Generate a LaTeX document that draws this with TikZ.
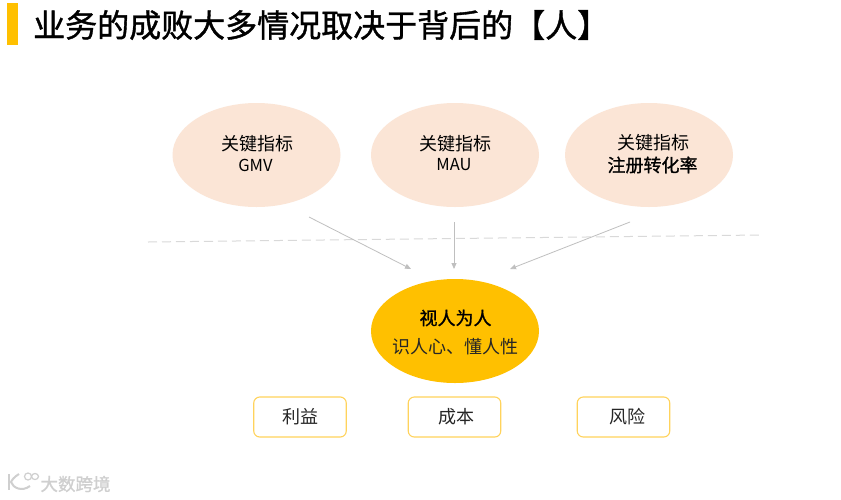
\documentclass[tikz,border=0pt]{standalone}
\usepackage{fontspec}
\setmainfont{Noto Sans CJK SC}[BoldFont={Noto Sans CJK SC Bold}]
\newfontfamily\cjkbold[FakeBold=1.2]{Noto Sans CJK SC}
\usetikzlibrary{shapes.geometric,arrows.meta}
\definecolor{peach}{HTML}{FBE5D6}
\definecolor{gold}{HTML}{FFC000}
\definecolor{boxline}{HTML}{FFD35C}
\definecolor{arrowgray}{HTML}{BFBFBF}
\definecolor{dashgray}{HTML}{D9D9D9}
\definecolor{wmgray}{HTML}{CFCFCF}
\tikzset{
  blob/.style={ellipse,minimum width=168pt,minimum height=104pt,inner sep=0pt,text=black},
  peachblob/.style={blob,fill=peach},
  goldblob/.style={blob,fill=gold},
  tagbox/.style={draw=boxline,line width=1.1pt,rounded corners=6pt,fill=white,minimum width=92.5pt,minimum height=40pt,inner sep=0pt},
  tagtext/.style={inner sep=0pt,font=\fontsize{18}{20}\selectfont,text=black!85},
  keytext/.style={inner sep=0pt,font=\fontsize{18}{20}\selectfont,text=black},
  flow/.style={draw=arrowgray,line width=0.8pt,-{Triangle[length=6pt,width=5pt]}},
  wm/.style={draw=wmgray,line width=2pt,fill=none},
}
\begin{document}
\begin{tikzpicture}[x=1pt,y=-1pt]
\useasboundingbox (0,0) rectangle (841,499);
\fill[white] (0,0) rectangle (841,499);
\node[fill=gold,minimum width=11pt,minimum height=42pt,inner sep=0pt] (bar) at (12.5,23.5) {};
\node[anchor=west,inner sep=0pt,font=\cjkbold\fontsize{32}{36}\selectfont,text=black] (title) at (33,25) {业务的成败大多情况取决于背后的【人】};
\node[peachblob] (k1) at (256.5,155) {};
\node[peachblob] (k2) at (455,155) {};
\node[peachblob] (k3) at (649,155) {};
\node[keytext] (k1a) at (257,144) {关键指标};
\node[keytext,font=\fontsize{16.5}{20}\selectfont] (k1b) at (255.5,165) {GMV};
\node[keytext] (k2a) at (455,144) {关键指标};
\node[keytext,font=\fontsize{16.5}{20}\selectfont] (k2b) at (454,165) {MAU};
\node[keytext] (k3a) at (653,143) {关键指标};
\node[keytext,font=\cjkbold\fontsize{18}{20}\selectfont] (k3b) at (652.5,165) {注册转化率};
\node[goldblob] (core) at (455,331) {};
\node[inner sep=0pt,font=\cjkbold\fontsize{18}{20}\selectfont] (coreA) at (455.5,318) {视人为人};
\node[inner sep=0pt,font=\fontsize{18}{20}\selectfont,text=black!85] (coreB) at (455.5,347) {识人心、懂人性};
\node[tagbox] (t1) at (300,417) {};
\node[tagbox] (t2) at (454.5,417) {};
\node[tagbox] (t3) at (623.5,417) {};
\node[tagtext] (t1t) at (300,417) {利益};
\node[tagtext] (t2t) at (456,417) {成本};
\node[tagtext] (t3t) at (627.5,417) {风险};
\coordinate (d1) at (148,242);
\coordinate (d2) at (761,235);
\draw[dashgray,line width=1pt,dash pattern=on 9pt off 5pt] (d1) -- (d2);
\coordinate (a1s) at (309,217);
\coordinate (a1e) at (411,269);
\coordinate (a2s) at (454,222);
\coordinate (a2e) at (454,269);
\coordinate (a3s) at (630,222);
\coordinate (a3e) at (510,269);
\draw[flow] (a1s) -- (a1e);
\draw[flow] (a2s) -- (a2e);
\draw[flow] (a3s) -- (a3e);
% watermark
\draw[wm] (9,474) -- (9,490);
\draw[wm] (19,474) .. controls (14,477) and (12,480) .. (11,482) .. controls (13,488) and (22,492) .. (30,486);
\draw[wm,line width=1.2pt] (28,476.5) circle (3.5);
\draw[wm,line width=1.2pt] (35,476.5) ellipse (3.5 and 3);
\node[inner sep=0pt,font=\cjkbold\fontsize{17.5}{18}\selectfont,text=wmgray] (wmt) at (75.5,484) {大数跨境};
\end{tikzpicture}
\end{document}
